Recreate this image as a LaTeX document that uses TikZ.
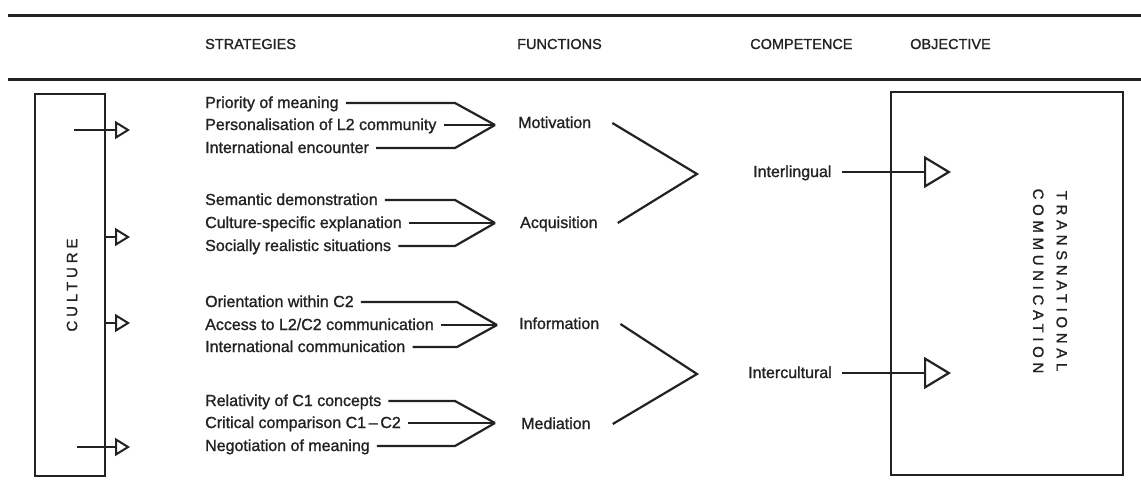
\documentclass[tikz,border=0pt]{standalone}
\usepackage{fontspec}
\setmainfont{Liberation Sans}[FakeBold=1.2]
\usetikzlibrary{arrows.meta}
\definecolor{ink}{HTML}{222222}

\begin{document}
\begin{tikzpicture}[x=1pt, y=-1pt, ink, text=ink,
    font=\fontsize{16}{18}\selectfont,
    txt/.style={inner sep=0pt, anchor=west, text height=12pt, text depth=2pt},
    head/.style={txt, font=\fontsize{14.5}{16}\selectfont},
    rule/.style={line width=3pt},
    bracket/.style={line width=2.2pt, line join=miter},
    box/.style={draw, line width=2.2pt, inner sep=0pt},
    inarrow/.style={line width=2.2pt, -{Triangle[open, length=15pt, width=18pt, line width=2pt]}},
    outarrow/.style={line width=2.2pt, -{Triangle[open, length=27pt, width=32pt, line width=2.2pt]}}]
  \useasboundingbox (0,0) rectangle (1141,498);

  % header
  \draw[rule] (8,15) -- (1141,15);
  \draw[rule] (8,79) -- (1141,79);
  \node[head] (hstrat) at (205,44) {STRATEGIES};
  \node[head] (hfunc) at (517,44) {FUNCTIONS};
  \node[head] (hcomp) at (750,44) {COMPETENCE};
  \node[head] (hobj) at (910,44) {OBJECTIVE};

  % culture
  \node[box, minimum width=70pt, minimum height=382pt] (culture) at (70,285) {};
  \node[rotate=90, font=\fontsize{15}{18}\selectfont\addfontfeature{LetterSpace=26}] (culttext) at (72,285) {CULTURE};
  \coordinate (cin1) at (74,130);
  \coordinate (cin2) at (105,237);
  \coordinate (cin3) at (105,323);
  \coordinate (cin4) at (77,447);
  \draw[inarrow] (cin1) -- ++(56,0);
  \draw[inarrow] (cin2) -- ++(25,0);
  \draw[inarrow] (cin3) -- ++(25,0);
  \draw[inarrow] (cin4) -- ++(53,0);

  % strategies
  \node[txt] (s11) at (205,103) {Priority of meaning};
  \node[txt] (s12) at (205,125) {Personalisation of L2 community};
  \node[txt] (s13) at (205,148) {International encounter};
  \node[txt] (s21) at (205,200) {Semantic demonstration};
  \node[txt] (s22) at (205,223) {Culture-specific explanation};
  \node[txt] (s23) at (205,246) {Socially realistic situations};
  \node[txt] (s31) at (205,302) {Orientation within C2};
  \node[txt] (s32) at (205,325) {Access to L2/C2 communication};
  \node[txt] (s33) at (205,347) {International communication};
  \node[txt] (s41) at (205,401) {Relativity of C1 concepts};
  \node[txt] (s42) at (205,423) {Critical comparison C1\,--\,C2};
  \node[txt] (s43) at (205,446) {Negotiation of meaning};

  \coordinate (tip1) at (495,125);
  \coordinate (tip2) at (495,223);
  \coordinate (tip3) at (497,325);
  \coordinate (tip4) at (495,423);

  \draw[bracket] ([xshift=7pt]s11.east) -- ([xshift=-40pt]tip1 |- s11.east) -- (tip1);
  \draw[bracket] ([xshift=7pt]s12.east) -- (tip1);
  \draw[bracket] ([xshift=7pt]s13.east) -- ([xshift=-40pt]tip1 |- s13.east) -- (tip1);
  \draw[bracket] ([xshift=7pt]s21.east) -- ([xshift=-40pt]tip2 |- s21.east) -- (tip2);
  \draw[bracket] ([xshift=7pt]s22.east) -- (tip2);
  \draw[bracket] ([xshift=7pt]s23.east) -- ([xshift=-40pt]tip2 |- s23.east) -- (tip2);
  \draw[bracket] ([xshift=7pt]s31.east) -- ([xshift=-40pt]tip3 |- s31.east) -- (tip3);
  \draw[bracket] ([xshift=7pt]s32.east) -- (tip3);
  \draw[bracket] ([xshift=7pt]s33.east) -- ([xshift=-40pt]tip3 |- s33.east) -- (tip3);
  \draw[bracket] ([xshift=7pt]s41.east) -- ([xshift=-40pt]tip4 |- s41.east) -- (tip4);
  \draw[bracket] ([xshift=7pt]s42.east) -- (tip4);
  \draw[bracket] ([xshift=7pt]s43.east) -- ([xshift=-40pt]tip4 |- s43.east) -- (tip4);

  % functions
  \node[txt] (motiv) at (518,123) {Motivation};
  \node[txt] (acqui) at (520,223) {Acquisition};
  \node[txt] (infor) at (519,324) {Information};
  \node[txt] (media) at (521,424) {Mediation};

  \coordinate (vtip1) at (697,174);
  \coordinate (vtip2) at (697,374);
  \draw[bracket] ([xshift=21pt]motiv.east) -- (vtip1) -- ([xshift=20pt]acqui.east);
  \draw[bracket] ([xshift=21pt]infor.east) -- (vtip2) -- ([xshift=22pt]media.east);

  % competence
  \node[txt] (inling) at (753,172) {Interlingual};
  \node[txt] (incult) at (748,373) {Intercultural};

  % objective
  \node[box, minimum width=232pt, minimum height=383pt] (objective) at (1007,283.5) {};
  \node[rotate=-90, align=center, font=\fontsize{15}{23.5}\selectfont\addfontfeature{LetterSpace=31}] (objtext) at (1050,281) {TRANSNATIONAL\\COMMUNICATION};

  \draw[outarrow] ([xshift=10pt]inling.east) -- ([xshift=-56pt]objective.north |- inling.east);
  \draw[outarrow] ([xshift=10pt]incult.east) -- ([xshift=-56pt]objective.north |- incult.east);
\end{tikzpicture}
\end{document}
